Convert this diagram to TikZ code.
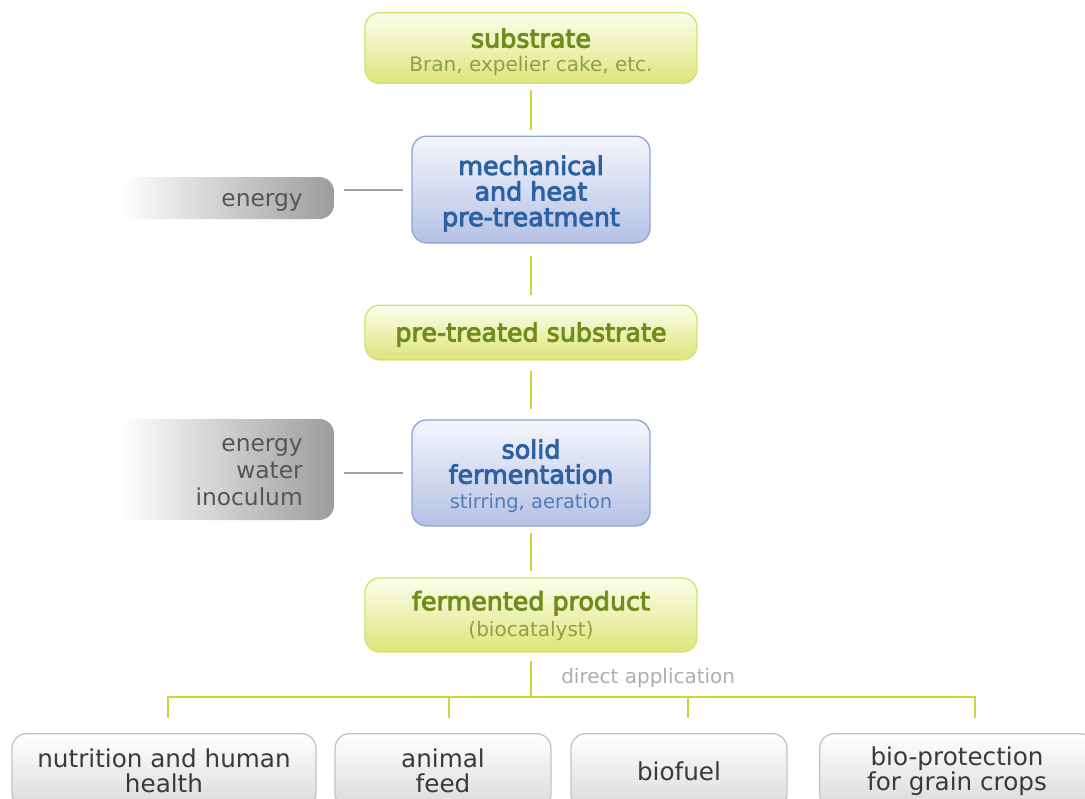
\documentclass[tikz,border=0pt]{standalone}
\usepackage{fontspec}
\setmainfont{DejaVu Sans}
\newfontfamily\semib[FakeBold=3.5]{DejaVu Sans}
\usetikzlibrary{positioning}
\definecolor{gline}{HTML}{C9D836}
\definecolor{gborder}{HTML}{D6E06A}
\definecolor{gtop}{HTML}{FBFDEC}
\definecolor{gbot}{HTML}{DDE67A}
\definecolor{gtext}{HTML}{6F8C1C}
\definecolor{gsub}{HTML}{8DA244}
\definecolor{btop}{HTML}{F4F6FD}
\definecolor{bbot}{HTML}{B5C1E5}
\definecolor{bborder}{HTML}{92A4D4}
\definecolor{btext}{HTML}{2C62A3}
\definecolor{bsub}{HTML}{4F7DB8}
\definecolor{graybox}{HTML}{9C9C9C}
\definecolor{graytext}{HTML}{555555}
\definecolor{conn}{HTML}{A0A0A0}
\definecolor{ltop}{HTML}{FFFFFF}
\definecolor{lbot}{HTML}{DADADA}
\definecolor{lborder}{HTML}{C4C4C4}
\definecolor{ltext}{HTML}{3A3A3A}
\tikzset{
  greenbox/.style={draw=gborder, line width=1pt, rounded corners=11pt, top color=gtop, bottom color=gbot, minimum width=249pt, inner sep=0pt},
  bluebox/.style={draw=bborder, line width=1pt, rounded corners=11pt, top color=btop, bottom color=bbot, minimum width=178.5pt, inner sep=0pt},
  gtxt/.style={align=center, text=gtext, inner sep=0pt},
  btxt/.style={align=center, text=btext, inner sep=0pt},
  inbox/.style={rounded corners=11pt, left color=white, right color=graybox, draw=none, inner sep=0pt},
  intext/.style={anchor=east, align=right, text=graytext, font=\fontsize{17.5}{20}\selectfont, inner sep=0pt},
  appbox/.style={draw=lborder, line width=1pt, rounded corners=11pt, top color=ltop, bottom color=lbot, align=center, text=ltext, font=\fontsize{18.5}{19}\selectfont, inner sep=0pt, minimum height=56pt},
  gflow/.style={draw=gline, line width=2pt},
  gconn/.style={draw=conn, line width=1.5pt}
}
\begin{document}
\begin{tikzpicture}[x=0.75pt, y=-0.75pt]
\useasboundingbox (0,0) rectangle (1085,799);
\clip (0,0) rectangle (1085,799);
\fill[white] (0,0) rectangle (1085,799);

% main column boxes
\node[greenbox, minimum height=53pt] (sub) at (531,48) {};
\node[bluebox, minimum height=80pt] (mech) at (531,189.5) {};
\node[greenbox, minimum height=41pt] (pre) at (531,332.5) {};
\node[bluebox, minimum height=79.5pt] (solid) at (531,473) {};
\node[greenbox, minimum height=55.5pt] (ferm) at (531,615) {};

% main column texts
\node[gtxt, font=\fontsize{19}{18}\selectfont] (subT) at (531,52)
  {{\semib substrate}\\{\color{gsub}\fontsize{15}{18}\selectfont Bran, expelier cake, etc.}};
\node[btxt, font=\semib\fontsize{19}{19.2}\selectfont] (mechT) at (531,193.5)
  {mechanical\\and heat\\pre-treatment};
\node[gtxt, font=\semib\fontsize{19}{19}\selectfont] (preT) at (531,334.5)
  {pre-treated substrate};
\node[btxt, font=\fontsize{19}{18.8}\selectfont] (solidT) at (531,476)
  {{\semib solid}\\{\semib fermentation}\\{\color{bsub}\fontsize{14.6}{18.8}\selectfont stirring, aeration}};
\node[gtxt, font=\fontsize{19}{20}\selectfont] (fermT) at (531,616)
  {{\semib fermented product}\\{\color{gsub}\fontsize{15}{20}\selectfont (biocatalyst)}};

% inputs
\node[inbox, minimum width=160.5pt, minimum height=31.5pt] (in1) at (227,198) {};
\node[intext] (in1t) at (303,202) {energy};
\node[inbox, minimum width=160.5pt, minimum height=75.75pt] (in2) at (227,469.5) {};
\node[intext] (in2t) at (303,472) {energy\\water\\inoculum};

% application boxes
\node[appbox, minimum width=228pt] (app1) at (164,771) {nutrition and human\\health};
\node[appbox, minimum width=162pt] (app2) at (443,771) {animal\\feed};
\node[appbox, minimum width=162pt] (app3) at (679,771) {biofuel};
\node[appbox, minimum width=206pt] (app4) at (957,771) {bio-protection\\for grain crops};

% connectors
\draw[gflow, shorten <=4.5pt, shorten >=4.5pt] (sub) -- (mech);
\draw[gflow, shorten <=9pt, shorten >=7.5pt] (mech) -- (pre);
\draw[gflow, shorten <=7.5pt, shorten >=7.5pt] (pre) -- (solid);
\draw[gflow, shorten <=5pt, shorten >=5pt] (solid) -- (ferm);
\draw[gconn, shorten <=7.5pt, shorten >=6.5pt] (in1.east |- mech) -- (mech);
\draw[gconn, shorten <=7.5pt, shorten >=6.5pt] (in2.east |- solid) -- (solid);

\coordinate (bus) at (531,697);
\coordinate (d1) at (168,718);
\coordinate (d2) at (449,718);
\coordinate (d3) at (688,718);
\coordinate (d4) at (975,718);
\draw[gflow, shorten <=6pt] (ferm) -- (bus);
\draw[gflow] (d1) -- (d1 |- bus) -- (d4 |- bus) -- (d4);
\draw[gflow] (d2 |- bus) -- (d2);
\draw[gflow] (d3 |- bus) -- (d3);
\node[anchor=west, text=conn!85, font=\fontsize{15}{18}\selectfont, inner sep=0pt] (lbl) at (561,678) {direct application};
\end{tikzpicture}
\end{document}
